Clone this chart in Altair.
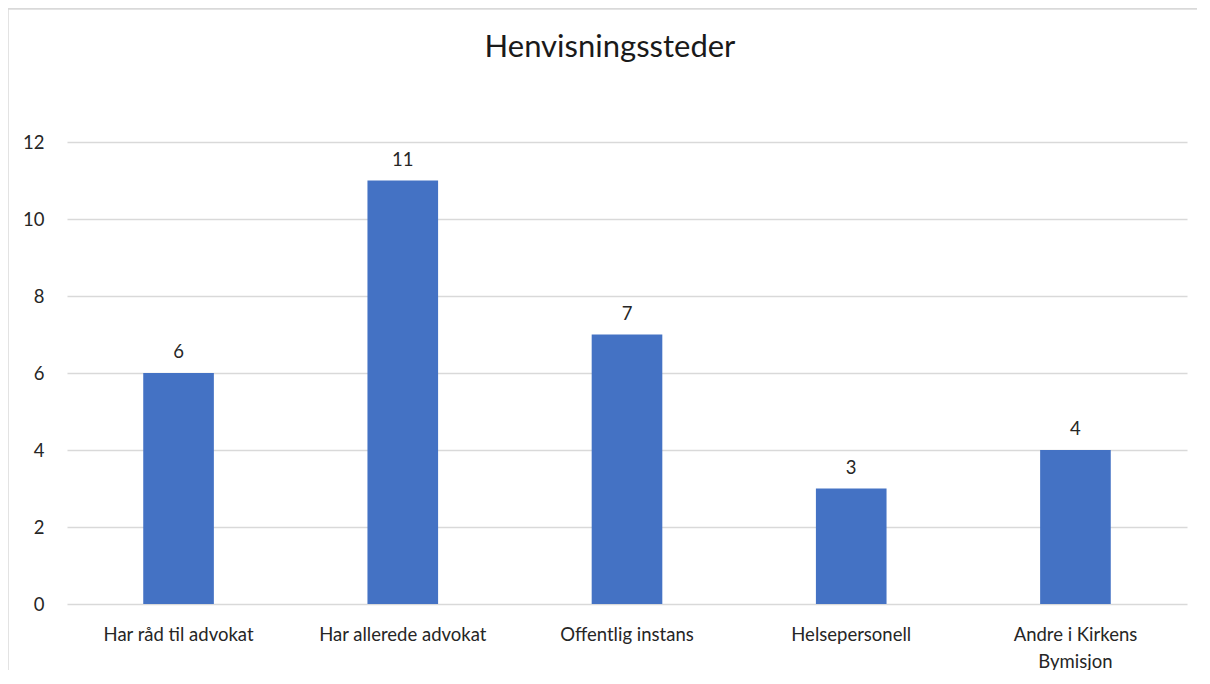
import altair as alt
import pandas as pd

title_text = "Henvisningssteder"
categories = ["Har råd til advokat", "Har allerede advokat", "Offentlig instans",
              "Helsepersonell", "Andre i Kirkens Bymisjon"]
values = [6, 11, 7, 3, 4]

df = pd.DataFrame({"kategori": categories, "antall": values})
title_df = pd.DataFrame({"t": [title_text]})

FONT = "Lato"
W, H = 1120, 462

x = alt.X("kategori:N", sort=categories, title=None,
          scale=alt.Scale(paddingInner=0.685, paddingOuter=0.34),
          axis=alt.Axis(labelAngle=0, domain=False, ticks=False, labelPadding=21,
                        labelFontSize=18.5, labelColor="#262626", labelFont=FONT,
                        labelLineHeight=27,
                        labelExpr="datum.label == 'Andre i Kirkens Bymisjon' ? ['Andre i Kirkens', 'Bymisjon'] : datum.label"))
y = alt.Y("antall:Q", title=None,
          scale=alt.Scale(domain=[0, 12]),
          axis=alt.Axis(values=[0, 2, 4, 6, 8, 10, 12], domain=False, ticks=False,
                        labelPadding=23, labelFontSize=18.5, labelColor="#262626",
                        labelFont=FONT, gridColor="#d9d9d9", gridWidth=1.5))

base = alt.Chart(df)

bars = base.mark_bar(color="#4472C4").encode(x=x, y=y)
text = base.mark_text(dy=-21, fontSize=18.5, font=FONT, color="#262626").encode(
    x=x, y=y, text="antall:Q")

border = base.mark_rect(fill=None, stroke="#d9d9d9", strokeWidth=2.5, clip=False).encode(
    x=alt.value(-60), x2=alt.value(W + 200),
    y=alt.value(-134), y2=alt.value(H + 200))

title = alt.Chart(title_df).mark_text(fontSize=31, font=FONT, color="#1a1a1a",
                                      baseline="middle", align="center", clip=False).encode(
    x=alt.value(543), y=alt.value(-94), text="t:N")

chart = alt.layer(border, bars, text, title).properties(
    width=W, height=H,
    autosize=alt.AutoSizeParams(type="none"),
    padding={"left": 59, "top": 134, "right": 10, "bottom": 66},
).configure_view(stroke=None)

chart.save("out.html", embed_options={"renderer": "svg", "actions": False})
